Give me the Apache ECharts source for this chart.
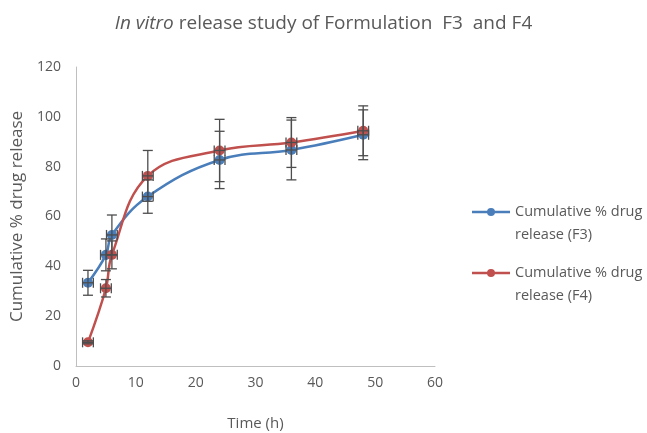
<!DOCTYPE html>
<html lang="en">
<head>
    <meta charset="UTF-8">
    <title>In vitro release study of Formulation F3 and F4</title>
    <script src="https://cdn.jsdelivr.net/npm/echarts@6/dist/echarts.min.js"></script>
    <style>
        html, body { margin: 0; padding: 0; background: #fff; }
    </style>
</head>
<body>
    <div id="chart" style="width: 647px; height: 433px;"></div>

    <script>
        // tempo (h)
        var tempos = [2, 5, 6, 12, 24, 36, 48];
        // F3
        var f3Media = [33.4, 44.6, 52.6, 68.0, 82.7, 86.7, 92.8];
        var f3Desvio = [5.0, 6.4, 8.0, 6.7, 11.5, 12.0, 10.0];
        // F4
        var f4Media = [9.5, 31.2, 44.6, 76.3, 86.5, 89.7, 94.4];
        var f4Desvio = [0.6, 3.5, 5.6, 10.2, 12.5, 10.0, 10.0];
        // barra horizontal (h)
        var erroX = [0.9, 0.9, 0.9, 0.9, 0.9, 0.9, 0.9];

        var nomeF3 = 'Cumulative % drug\nrelease (F3)';
        var nomeF4 = 'Cumulative % drug\nrelease (F4)';
        var corF3 = '#4a7ebb';
        var corF4 = '#c0504d';
        var fonte = 'Open Sans, Noto Sans, sans-serif';

        // icone da legenda: linha + marcador na primeira linha do texto (caixa 38 x 46)
        var iconeLegenda = 'path://M0 0H0.1V0.1H0Z' +
            'M0 10.8H38V13.2H0Z' +
            'M15 12A4 4 0 1 1 23 12A4 4 0 1 1 15 12Z' +
            'M0 45.9H0.1V46H0Z';

        function pares(media) {
            return tempos.map(function (t, i) { return [t, media[i]]; });
        }

        function dadosErro(media, desvio) {
            return tempos.map(function (t, i) { return [t, media[i], desvio[i], erroX[i]]; });
        }

        function desenharErro(params, api) {
            var x = api.value(0), y = api.value(1), dy = api.value(2), dx = api.value(3);
            var centro = api.coord([x, y]);
            var topo = api.coord([x, y + dy]);
            var base = api.coord([x, y - dy]);
            var esq = api.coord([x - dx, y]);
            var dir = api.coord([x + dx, y]);
            var cap = 5;
            var estilo = { stroke: '#4d4d4d', lineWidth: 1.3 };
            function linha(x1, y1, x2, y2) {
                return { type: 'line', shape: { x1: x1, y1: y1, x2: x2, y2: y2 }, style: estilo };
            }
            return {
                type: 'group',
                children: [
                    linha(centro[0], topo[1], centro[0], base[1]),
                    linha(centro[0] - cap, topo[1], centro[0] + cap, topo[1]),
                    linha(centro[0] - cap, base[1], centro[0] + cap, base[1]),
                    linha(esq[0], centro[1], dir[0], centro[1]),
                    linha(esq[0], centro[1] - cap, esq[0], centro[1] + cap),
                    linha(dir[0], centro[1] - cap, dir[0], centro[1] + cap)
                ]
            };
        }

        var chart = echarts.init(document.getElementById('chart'));

        chart.setOption({
            animation: false,
            title: {
                text: '{i|In vitro} release study of Formulation  F3  and F4',
                left: 'center',
                top: 9,
                textStyle: {
                    fontFamily: fonte,
                    fontSize: 19,
                    fontWeight: 'normal',
                    color: '#595959',
                    rich: {
                        i: { fontFamily: fonte, fontSize: 19, fontStyle: 'italic', color: '#595959' }
                    }
                }
            },
            legend: {
                orient: 'vertical',
                left: 467,
                top: 195,
                itemWidth: 38,
                itemHeight: 46,
                itemGap: 15,
                icon: iconeLegenda,
                itemStyle: { borderWidth: 0 },
                data: [nomeF3, nomeF4],
                textStyle: {
                    fontFamily: fonte,
                    fontSize: 14.5,
                    color: '#595959',
                    lineHeight: 23
                }
            },
            grid: {
                left: 76,
                right: 212,
                top: 67,
                bottom: 67,
                outerBoundsMode: 'none'
            },
            xAxis: {
                type: 'value',
                min: 0,
                max: 60,
                interval: 10,
                name: 'Time (h)',
                nameLocation: 'middle',
                nameGap: 50,
                nameTextStyle: { fontFamily: fonte, fontSize: 15, color: '#595959' },
                axisLine: { lineStyle: { color: '#bfbfbf', width: 1 } },
                axisTick: { show: false },
                axisLabel: { fontFamily: fonte, fontSize: 14, color: '#595959', margin: 10 },
                splitLine: { show: false }
            },
            yAxis: {
                type: 'value',
                min: 0,
                max: 120,
                interval: 20,
                name: 'Cumulative % drug release',
                nameLocation: 'middle',
                nameGap: 48,
                nameTextStyle: { fontFamily: fonte, fontSize: 17, color: '#595959' },
                axisLine: { show: true, lineStyle: { color: '#bfbfbf', width: 1 } },
                axisTick: { show: false },
                axisLabel: { fontFamily: fonte, fontSize: 14, color: '#595959', margin: 15 },
                splitLine: { show: false }
            },
            series: [
                {
                    name: nomeF3,
                    type: 'line',
                    data: pares(f3Media),
                    smooth: 0.4,
                    symbol: 'circle',
                    symbolSize: 10,
                    color: corF3,
                    lineStyle: { width: 2.5, color: corF3 },
                    itemStyle: { color: corF3 },
                    z: 3
                },
                {
                    name: nomeF4,
                    type: 'line',
                    data: pares(f4Media),
                    smooth: 0.4,
                    symbol: 'circle',
                    symbolSize: 10,
                    color: corF4,
                    lineStyle: { width: 2.5, color: corF4 },
                    itemStyle: { color: corF4 },
                    z: 3
                },
                {
                    type: 'custom',
                    renderItem: desenharErro,
                    data: dadosErro(f3Media, f3Desvio),
                    silent: true,
                    z: 4
                },
                {
                    type: 'custom',
                    renderItem: desenharErro,
                    data: dadosErro(f4Media, f4Desvio),
                    silent: true,
                    z: 4
                }
            ]
        });
    </script>
</body>
</html>
